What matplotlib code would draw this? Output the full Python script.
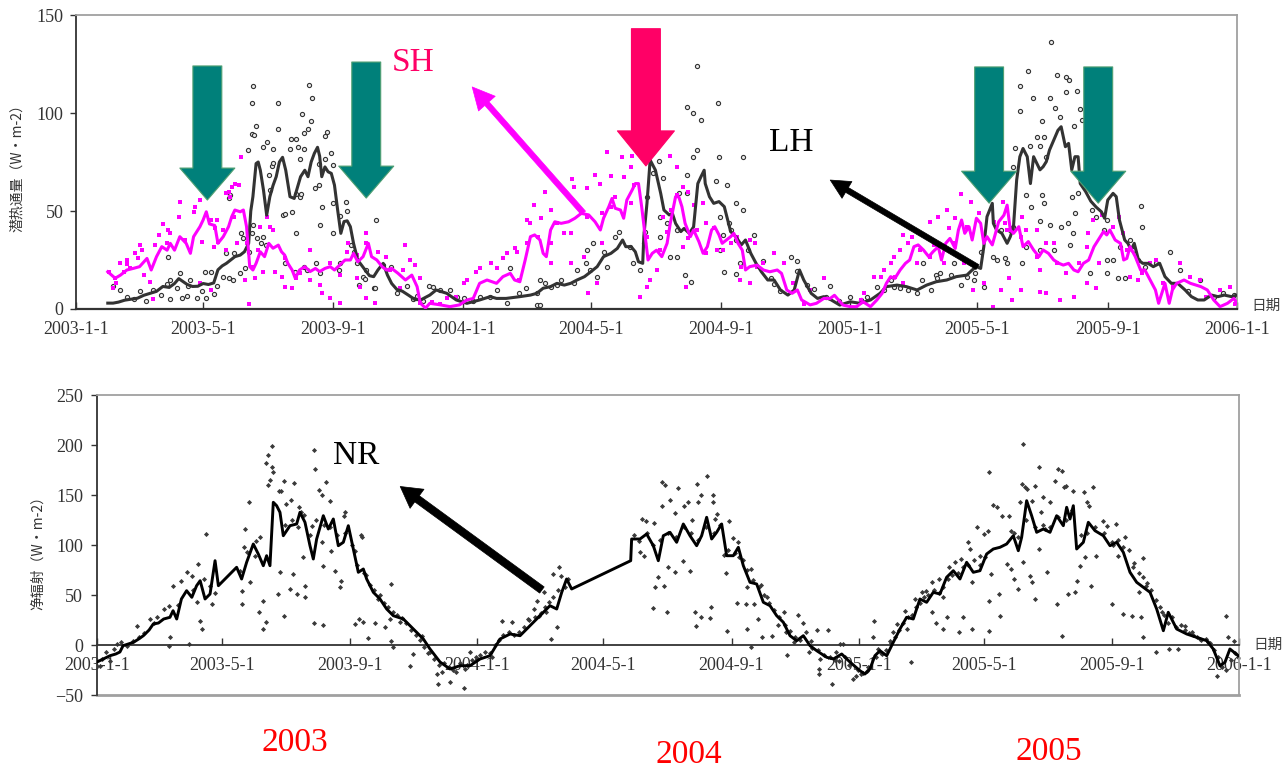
import numpy as np
import matplotlib
matplotlib.use("Agg")
import matplotlib.pyplot as plt

plt.rcParams['font.family'] = ['Liberation Serif', 'Noto Sans CJK SC', 'DejaVu Sans']

# day numbers count from 2003-01-01
start = np.datetime64('2003-01-01')
tick_dates = ['2003-01-01', '2003-05-01', '2003-09-01', '2004-01-01', '2004-05-01',
              '2004-09-01', '2005-01-01', '2005-05-01', '2005-09-01', '2006-01-01']
tick_labels = ['2003-1-1', '2003-5-1', '2003-9-1', '2004-1-1', '2004-5-1',
               '2004-9-1', '2005-1-1', '2005-5-1', '2005-9-1', '2006-1-1']
year_labels = ['2003', '2004', '2005']

# latent heat (LH) running mean, W/m2
lh_line = [(30, 3), (35, 3), (40, 3.5), (46, 4.5), (52, 5), (58, 5.5), (64, 7), (70, 8), (76, 9),
           (82, 11.5), (88, 11), (93, 13), (97, 15.5), (101, 14), (105, 12.5), (110, 11.5),
           (115, 11.6), (120, 13), (125, 12.5), (130, 13.3), (134, 20), (138, 22), (142, 23.3),
           (146, 25), (150, 26.7), (155, 27.5), (159, 29.2), (163, 33.5), (165, 50), (167, 57.3),
           (170, 74.2), (172, 75), (174, 70.8), (177, 60.6), (180, 47.9), (183, 57.3), (186, 63),
           (189, 67.5), (192, 75), (195, 77.4), (198, 70.8), (202, 57.3), (206, 56.4), (209, 62),
           (212, 67.5), (216, 70.8), (219, 67.5), (222, 75), (225, 79.4), (228, 82.5), (230, 78),
           (232, 67.5), (235, 72.5), (238, 70), (241, 69.2), (244, 63.2), (247, 50.5), (250, 38.6),
           (253, 44.6), (256, 45), (259, 42), (262, 33.5), (266, 24.9), (270, 22), (273, 19.9),
           (277, 17), (281, 16.5), (285, 19.9), (290, 23.3), (294, 17.3), (298, 13), (303, 9.9),
           (308, 9.1), (314, 7), (320, 4.8), (326, 4.8), (334, 7.1), (340, 9.7), (350, 8),
           (359, 4.6), (369, 2.9), (381, 4.6), (391, 6.3), (397, 5.4), (406, 5.4), (419, 6.3),
           (429, 7.1), (435, 8), (441, 10.6), (448, 11.4), (454, 13.1), (461, 12.2), (467, 13.1),
           (473, 14.8), (480, 16.5), (486, 19), (492, 21.6), (498, 26.7), (505, 28.4), (511, 30.9),
           (516, 35.2), (519, 31.8), (524, 31.8), (528, 29.2), (531, 24.1), (535, 23.3), (536, 36.9),
           (539, 53.9), (542, 76), (547, 70.8), (552, 58.9), (555, 50.5), (560, 48), (563, 48.8),
           (566, 43.7), (571, 39.5), (574, 41.1), (579, 38.6), (583, 41.9), (587, 64), (590, 67.5),
           (593, 70.8), (594, 64), (598, 57.3), (602, 53.9), (607, 54.8), (612, 52.2), (618, 39.5),
           (623, 36.9), (628, 32.7), (632, 35.2), (637, 28.4), (642, 23.3), (647, 19), (653, 14.8),
           (659, 14.8), (665, 9.7), (672, 7.1), (678, 9.7), (683, 19.9), (687, 14.8), (694, 8),
           (700, 5.4), (706, 6.3), (713, 4.6), (721, 2), (731, 3.7), (740, 2.9), (750, 4.6),
           (759, 8), (765, 11.4), (775, 12.2), (784, 11.4), (794, 9.7), (803, 12.2), (812, 13.9),
           (822, 14.8), (831, 16.5), (841, 17.3), (846, 19.9), (850, 21.6), (854, 20.7), (857, 31.8),
           (860, 47.1), (865, 53.9), (866, 43.7), (869, 40.3), (874, 38.6), (879, 33.5), (882, 36.9),
           (885, 42), (888, 65.8), (891, 77.7), (894, 81.9), (898, 77.7), (901, 64), (904, 77.7),
           (907, 74.3), (910, 71), (913, 72.6), (916, 75.2), (919, 81.1), (923, 86.2), (927, 91.2),
           (930, 93), (934, 82.8), (937, 84.5), (940, 71), (943, 77.7), (946, 77.7), (948, 64),
           (953, 60), (958, 55), (963, 52), (968, 49.6), (971, 46.3), (974, 55.6), (979, 59),
           (982, 57.3), (985, 45.4), (990, 35.2), (993, 33.5), (996, 30.1), (999, 33.5), (1003, 25),
           (1007, 23.3), (1012, 23.3), (1017, 21.6), (1023, 23.3), (1028, 16.5), (1034, 13.1),
           (1040, 13.1), (1047, 9.7), (1053, 6.3), (1059, 4.6), (1065, 4.6), (1072, 7.1),
           (1078, 6.3), (1084, 7.1), (1091, 6.3), (1096, 7.1)]

# sensible heat (SH) running mean, W/m2
sh_line = [(30, 19), (37, 15.7), (42, 17.3), (48, 19.9), (54, 20.7), (60, 21.6), (67, 25.8),
           (71, 19.9), (76, 26.7), (81, 31.8), (86, 30), (89, 33.5), (93, 30), (98, 36.9),
           (104, 33.5), (108, 28.4), (111, 36.9), (117, 42), (120, 45.4), (123, 49.6), (126, 43.4),
           (131, 42.6), (134, 33.5), (139, 36.9), (144, 42), (147, 47.1), (150, 50.5), (155, 49.6),
           (158, 50.5), (161, 42), (164, 21.6), (167, 19.9), (170, 23.3), (174, 29.2), (178, 26.7),
           (182, 33.5), (186, 31), (191, 32.6), (194, 29.2), (197, 27.5), (200, 23.3), (204, 19.9),
           (207, 15.7), (211, 19.9), (216, 21.6), (221, 19.1), (226, 20.7), (230, 19.1), (235, 20.7),
           (240, 21.6), (244, 19.9), (249, 22.4), (254, 25), (259, 25), (262, 28.4), (266, 24.1),
           (271, 26.7), (276, 33.5), (279, 26.7), (284, 25), (289, 21.6), (293, 19.9), (298, 20.7),
           (304, 18.2), (311, 14.8), (317, 17.3), (322, 11.4), (325, 3), (330, 0.5), (334, 2.9),
           (344, 2.1), (353, 1.2), (362, 2.1), (369, 4.6), (375, 5.4), (381, 13.1), (388, 14.8),
           (397, 13.1), (403, 16.5), (410, 18.2), (414, 14.8), (419, 13.9), (424, 24.9), (429, 36.9),
           (433, 37.8), (438, 35.2), (441, 28.4), (444, 26.7), (448, 40.3), (452, 44.5), (458, 43.7),
           (465, 44.5), (471, 46.3), (477, 48.8), (484, 48), (490, 44.5), (495, 40.3), (498, 46.3),
           (503, 52.2), (506, 56.4), (509, 51.4), (514, 50.5), (517, 46.3), (520, 55.6), (525, 60.7),
           (528, 64), (531, 64), (534, 52.2), (537, 38.6), (540, 25), (544, 28.4), (548, 30),
           (553, 26.7), (558, 33.5), (561, 43.7), (566, 57.3), (569, 57.3), (572, 52.2), (575, 43.7),
           (580, 36.9), (583, 40.3), (588, 34.4), (592, 28.4), (596, 31.8), (600, 40.3), (603, 42),
           (607, 37.8), (610, 33.5), (614, 35.2), (618, 36.9), (621, 38.6), (625, 33.5), (629, 30),
           (632, 19.9), (636, 21.6), (643, 22.4), (649, 19.9), (655, 19), (662, 19.9), (666, 18.2),
           (671, 9.7), (676, 8), (681, 9.7), (685, 4.6), (693, 2.1), (699, 2.9), (706, 5.4),
           (712, 5.4), (716, 7), (724, 2), (731, 1.2), (737, 1.2), (743, 3.7), (750, 1.2), (756, 4.6),
           (761, 8), (765, 13.1), (769, 16.5), (773, 15.6), (778, 19.9), (783, 23.3), (787, 25),
           (791, 31.8), (795, 32.7), (800, 30.1), (805, 26.7), (809, 29.2), (814, 31.8), (817, 25),
           (821, 33.5), (825, 36), (830, 30.9), (833, 40.3), (836, 45.4), (839, 38.6), (843, 42),
           (846, 35.2), (850, 46.3), (854, 43.7), (857, 33.5), (860, 36.9), (865, 32.7), (868, 38.6),
           (871, 44.5), (876, 47.9), (879, 53), (882, 40.3), (885, 38.6), (890, 42), (894, 31.8),
           (899, 34.4), (904, 30.1), (909, 26.7), (913, 30.1), (918, 28.4), (923, 25), (928, 23.3),
           (932, 22.4), (937, 23.3), (942, 19.9), (946, 19), (951, 23.3), (956, 25), (961, 31.8),
           (965, 35.2), (970, 39.5), (973, 37.8), (976, 40.3), (981, 35.2), (986, 33.5), (989, 25),
           (992, 25.8), (995, 31.8), (1000, 26.7), (1005, 19.9), (1009, 19.9), (1014, 14.8),
           (1019, 9.7), (1022, 2.9), (1025, 8), (1028, 13.1), (1032, 2.9), (1035, 9.7), (1039, 13.1),
           (1046, 14.8), (1052, 13.1), (1062, 11.4), (1068, 9.7), (1074, 4.6), (1080, 1.2),
           (1087, 2.9), (1093, 5.4), (1096, 2.9)]

# LH daily values
lh_dots = [(35, 11.6), (42, 9.9), (48, 6), (55, 5), (60, 9.1), (66, 4), (73, 9.9), (80, 7), (86, 12.5),
           (89, 15), (87, 26.7), (89, 4.9), (95, 10.8), (98, 18.2), (100, 5.7), (105, 6.6), (106, 11.6),
           (108, 15), (114, 5.7), (119, 9.1), (122, 19.1), (123, 5.7), (127, 19.1), (130, 7.4),
           (133, 11.6), (139, 16.5), (142, 28.4), (144, 15.7), (145, 58), (144, 56.4), (148, 14.8),
           (149, 28.4), (155, 18.2), (156, 38.6), (158, 36), (160, 20.7), (162, 81), (163, 29.2),
           (166, 105), (166, 89.3), (166, 38.6), (167, 114), (168, 89), (167, 42.8), (170, 93.5),
           (171, 36), (175, 33.5), (177, 82.5), (177, 36.9), (179, 32.6), (180, 85), (182, 68.3),
           (183, 60.6), (185, 72.8), (186, 74.6), (186, 81.8), (191, 105), (191, 92), (195, 47.9),
           (197, 48.7), (197, 23.3), (202, 81.6), (203, 86.7), (204, 49.6), (207, 19.1), (208, 86.7),
           (208, 58.9), (208, 38.6), (210, 82.5), (211, 76.5), (211, 57.3), (212, 58.9), (213, 99.5),
           (215, 89.6), (215, 81.5), (215, 21.6), (218, 19.9), (219, 91.7), (220, 114.5), (222, 96),
           (223, 107.5), (226, 61.5), (227, 23.3), (229, 63.2), (229, 74.2), (230, 42.8), (230, 18.2),
           (232, 52.2), (235, 88.4), (235, 76.5), (237, 90.5), (241, 79.4), (243, 73.5), (243, 54),
           (243, 38.6), (248, 19.9), (249, 47.2), (249, 23.3), (255, 54.8), (256, 49.8), (260, 32.6),
           (262, 29.2), (265, 23.3), (267, 12.3), (271, 16.5), (273, 15.2), (274, 19.9), (281, 10.6),
           (282, 10.6), (283, 45.6), (290, 22.4), (297, 21.3), (303, 8.2), (312, 11.6), (318, 5),
           (322, 6.5), (328, 4), (333, 11.6), (337, 11.4), (344, 9.7), (353, 9.7), (360, 6),
           (366, 5.4), (375, 4), (381, 6.3), (391, 6.3), (397, 9.7), (407, 3), (410, 20.7), (418, 8),
           (425, 10.6), (435, 8), (435, 2.1), (438, 14.8), (438, 2.1), (443, 13.1), (448, 11),
           (454, 12.2), (458, 14.8), (470, 13.1), (473, 19.9), (481, 23.3), (482, 30), (485, 19.9),
           (488, 33.5), (492, 16.5), (498, 29.2), (501, 21.6), (509, 36.9), (513, 39.5), (523, 31.8),
           (526, 23.3), (532, 19.9), (536, 33.5), (537, 39.5), (539, 57.3), (545, 69.2), (550, 75.5),
           (551, 47.1), (551, 36.9), (554, 66.6), (558, 43.7), (561, 26.6), (567, 40.3), (567, 26.6),
           (569, 59), (575, 17.6), (577, 59), (577, 68.3), (577, 103.2), (581, 13.9), (582, 100.2),
           (582, 77.3), (586, 124), (586, 81), (590, 96.4), (604, 65.5), (606, 104.9), (607, 77.3),
           (608, 47.1), (608, 30), (611, 37.8), (612, 18.7), (615, 63.2), (616, 43.7), (618, 40.3),
           (623, 53.9), (623, 35.2), (623, 17.7), (627, 23.7), (630, 77.3), (630, 50.5), (634, 30),
           (640, 37.8), (649, 24.5), (656, 16), (659, 12.7), (665, 9.3), (675, 26.4), (681, 24.5),
           (681, 19.5), (690, 12), (697, 10.1), (708, 5.9), (712, 11.8), (720, 4), (731, 6.3),
           (741, 4.6), (747, 6.3), (756, 11.4), (763, 9.7), (769, 14.8), (772, 11.4), (778, 10.6),
           (785, 9.7), (794, 8), (799, 14.8), (800, 23.3), (807, 9.7), (812, 17.3), (813, 15.6),
           (816, 18.2), (826, 17.3), (829, 23.3), (835, 12.2), (841, 16.5), (848, 14.8), (849, 18.2),
           (854, 29.2), (857, 11.4), (866, 26.6), (869, 24.9), (873, 40.3), (877, 26), (879, 23.3),
           (882, 40.3), (885, 42), (885, 72.6), (886, 82.3), (891, 113.8), (891, 101), (893, 23.3),
           (897, 58.1), (897, 31.8), (899, 121.6), (901, 83.2), (902, 52.2), (903, 107.5), (907, 87.6),
           (910, 83.2), (910, 45), (910, 30), (912, 58.1), (912, 96), (914, 87.6), (914, 53.9),
           (916, 77.7), (919, 107.5), (919, 42.8), (920, 136.4), (923, 30), (924, 102.4), (926, 119.4),
           (929, 97.8), (930, 42), (935, 110.6), (935, 118.5), (936, 43.7), (937, 116.8), (938, 32.7),
           (940, 57.3), (941, 38.6), (942, 93.3), (943, 48.8), (945, 111.2), (946, 59), (948, 101.9),
           (950, 96.4), (957, 18.2), (959, 50.5), (963, 47.1), (970, 40.3), (973, 45.4), (973, 25),
           (973, 18.2), (979, 25), (984, 15.6), (986, 31.8), (990, 15.6), (995, 35.2), (998, 30.1),
           (1003, 25), (1005, 52.6), (1006, 41.6), (1009, 21.6), (1020, 23.3), (1033, 28.9),
           (1042, 19.9), (1050, 9), (1061, 14.8), (1074, 6.3), (1083, 8), (1093, 7.1)]

# SH daily values
sh_dots = [(31, 19), (35, 10.6), (37, 15.7), (38, 13.1), (42, 23.6), (45, 19.1), (48, 23), (48, 25),
           (51, 20.7), (56, 28.4), (59, 26), (60, 32.6), (62, 30), (64, 17.3), (70, 13.9), (73, 4.9),
           (75, 32.6), (78, 37.8), (82, 43.4), (86, 33.5), (87, 40.3), (89, 38.6), (97, 47.1),
           (98, 54.4), (103, 35.2), (108, 30), (111, 49.7), (112, 52.2), (117, 55.6), (117, 13.1),
           (119, 34.3), (127, 45.4), (127, 9.7), (130, 31.8), (131, 41.1), (133, 45.4), (134, 34.3),
           (139, 40.3), (142, 30), (142, 59), (144, 59.8), (145, 57.3), (147, 62.4), (149, 47.1),
           (150, 64), (152, 33.5), (154, 63.2), (156, 77.7), (160, 14.8), (161, 33.5), (163, 2.8),
           (167, 21.6), (169, 15.7), (172, 30), (174, 42), (177, 19.1), (180, 47.1), (183, 42),
           (186, 40.3), (188, 19.1), (194, 16.5), (197, 25.8), (197, 11.4), (204, 10.6), (208, 15.7),
           (211, 18.2), (221, 30), (221, 14.8), (230, 12.3), (232, 8.2), (240, 5.6), (240, 23.3),
           (249, 3), (249, 17.3), (256, 29.2), (257, 33.5), (265, 27.5), (265, 15.7), (268, 11.4),
           (274, 38.6), (274, 33.5), (274, 5.6), (282, 3), (285, 29.2), (293, 26.6), (296, 19.9),
           (306, 10.6), (309, 19.9), (311, 32.6), (315, 24.9), (320, 22.4), (325, 15.7), (325, 3),
           (336, 3.7), (344, 2.8), (350, 5.4), (359, 6.3), (366, 13.1), (369, 14.8), (378, 19.1),
           (381, 20.7), (392, 23.3), (397, 20.7), (403, 25.8), (407, 28.4), (414, 30.9), (416, 29.2),
           (418, 14.8), (426, 33.5), (426, 45.4), (429, 43.7), (432, 53), (436, 36.9), (439, 46.3),
           (443, 59.8), (448, 50.5), (448, 33.5), (448, 23.3), (454, 43.7), (461, 38.6), (467, 38.6),
           (467, 23.3), (468, 66.2), (470, 62.4), (477, 49.6), (480, 26.7), (482, 61.5), (482, 47.1),
           (483, 8), (490, 68.3), (492, 13.1), (495, 64), (497, 48.8), (497, 33.5), (501, 80.2),
           (505, 67.8), (505, 52.2), (509, 57.3), (515, 77.7), (517, 67.5), (524, 72.6), (524, 53.9),
           (525, 78), (527, 63.2), (532, 6.3), (539, 11.4), (539, 36.9), (542, 14.8), (548, 19.9),
           (551, 30), (554, 47.1), (558, 39.5), (561, 78), (562, 50.5), (567, 72.6), (567, 58.1),
           (573, 62.4), (573, 31.8), (576, 11.4), (578, 59.8), (578, 36), (583, 53), (586, 40.3),
           (592, 53.9), (595, 43.7), (595, 28.4), (602, 41.1), (605, 30), (611, 30), (618, 33.5),
           (624, 36.9), (627, 14.8), (628, 21.6), (636, 35.2), (636, 13.1), (641, 33.5), (643, 21.6),
           (649, 23.3), (659, 28.4), (668, 23.3), (677, 13.1), (687, 2.8), (693, 9.7), (706, 15.7),
           (741, 4.6), (744, 8), (753, 16.5), (760, 16.5), (763, 20), (769, 23.3), (772, 26.7),
           (773, 16.5), (778, 30.1), (781, 37.8), (781, 13.1), (785, 33.5), (789, 36.9), (794, 23.3),
           (797, 30.1), (802, 36.9), (806, 44.2), (806, 26.7), (810, 32.7), (814, 47.1), (819, 23.3),
           (822, 50.5), (824, 41.1), (830, 46.6), (830, 33.5), (835, 58.5), (838, 23.3), (841, 42),
           (845, 54.4), (847, 9.7), (852, 49.1), (857, 13.1), (866, 1), (867, 44.5), (873, 9.7),
           (875, 54.4), (877, 44), (879, 40.3), (881, 15.6), (884, 4.6), (892, 36.9), (892, 9.7),
           (893, 47.1), (897, 40.3), (907, 40.3), (907, 26.7), (910, 19.9), (910, 8.8), (916, 33.5),
           (916, 8), (923, 33.5), (926, 23.3), (929, 4.6), (935, 18.2), (942, 6.3), (947, 23.3),
           (954, 31.8), (954, 13.1), (955, 38.6), (960, 45.4), (963, 10.6), (966, 23.3), (969, 48),
           (979, 42), (985, 47.1), (988, 38.6), (992, 30.1), (995, 16.5), (1003, 14.8), (1006, 18.2),
           (1014, 23.3), (1020, 25), (1026, 13.1), (1036, 11.4), (1042, 23.3), (1052, 16.5),
           (1061, 14.8), (1067, 6.3), (1080, 9.7), (1089, 11.4), (1094, 2.8)]

# net radiation (NR) running mean, W/m2
nr_line = [(0, -17), (6, -14), (12.5, -10.7), (18, -9), (22, -7), (25, -0.7), (30, 1), (35, 2.7),
           (40, 6), (44.5, 9.3), (50, 15), (54, 21), (59, 22), (64, 26), (70, 27.7), (73, 34.3),
           (76.5, 26), (81, 46), (86, 54.3), (91, 47.7), (95.6, 59.3), (99, 64.3), (103.7, 46),
           (108.5, 51), (113.3, 84.3), (116.5, 59.3), (134, 77.7), (138.8, 66), (143.6, 82.7),
           (150, 101), (154.8, 91), (159.6, 79.3), (162.8, 89.3), (166, 79.3), (169.2, 142.7),
           (172.4, 139.3), (175.6, 132.7), (178.8, 109.3), (185.2, 119.3), (191.6, 121),
           (194.8, 132.7), (199.6, 122.7), (204.4, 99.3), (207.6, 86), (210.8, 106), (217.2, 129.3),
           (222, 116), (226.8, 126), (231.6, 99.3), (236.4, 102.7), (241.2, 119.3), (246, 96),
           (250.8, 72.7), (255.6, 76), (258.8, 66), (265.2, 52.7), (271.6, 46), (278, 36),
           (284.4, 29.3), (294, 26), (303.6, 16), (313.2, 6), (319.6, -4), (329.2, -17),
           (338.8, -24), (348.4, -20.7), (358, -20.7), (367.6, -14), (377.2, -10.7), (386.8, 6),
           (396.4, 11), (406, 9.3), (415.5, 19.3), (425.1, 29.3), (434.7, 39.3), (441.2, 36),
           (446, 52.7), (450.7, 66), (455.5, 56), (512.2, 84.3), (513.1, 106), (521.1, 106),
           (527.5, 111), (533.9, 99.3), (538.7, 84.3), (543.5, 109.3), (549.9, 112.7),
           (556.3, 102.7), (562.7, 121), (569.1, 109.3), (575.5, 99.3), (580.3, 109.3),
           (585.1, 127.7), (589.9, 106), (594.7, 112.7), (599.5, 121), (604.3, 89.3), (610.7, 89.3),
           (615.5, 97.7), (620.3, 79.3), (626.7, 62.7), (633.1, 61), (639.5, 42.7), (645.9, 39.3),
           (652.3, 29.3), (658.7, 22.7), (665.1, 9.3), (671.5, 4.3), (677.9, 9.3), (684.3, -0.7),
           (690.7, -5.7), (700.3, -12.3), (706.7, -14), (714.7, -9), (722.6, -17), (732.2, -25.7),
           (737, -29), (741.8, -24), (746.6, -10.7), (751.4, -5.7), (757.9, -10.7), (764.2, 2.7),
           (770.6, 16), (777, 27.7), (783.4, 26), (789.8, 46), (796.2, 42.7), (802.6, 52.7),
           (809, 51), (815.4, 67.7), (821.8, 74.3), (828.2, 66), (834.6, 82.7), (841, 72.7),
           (847.4, 74.3), (853.8, 91), (860.2, 96), (866.6, 97.7), (873, 101), (879.4, 109.3),
           (884.2, 94.3), (887.4, 107.7), (892.2, 144.3), (897, 129.3), (901.8, 112.7),
           (908.2, 116), (914.6, 112.7), (921, 129.3), (927.4, 119.3), (930.6, 137.7), (933.8, 126),
           (937, 139.3), (940.2, 96), (946.6, 102.7), (951.4, 122.7), (957.8, 114.3), (965.8, 109.3),
           (972.2, 99.3), (978.6, 102.7), (985, 92.7), (991.4, 72.7), (997.8, 62.7), (1004.2, 57.7),
           (1010.6, 52.7), (1017, 36), (1023.4, 14.3), (1028.1, 32.7), (1036.2, 16), (1045.8, 11),
           (1055.4, 7.7), (1065, 4.3), (1071.3, -4), (1077.7, -20.7), (1082.5, -17.3), (1087.3, -4),
           (1095.3, -10.7)]

# NR daily values
nr_dots = [(3, -20.7), (5, -14), (9, -7.3), (12.5, -15.7), (16, -4), (19, 1), (23, 2.7), (29, -0.7),
           (35, 4.3), (38, 19.3), (40, 8), (45, 12), (51, 26), (55, 22), (58, 27.7), (64, 36),
           (69, 39.3), (69, -0.7), (70, 7.7), (73, 59.3), (78, 40), (81, 64.3), (86, 72.7), (88, 1),
           (91, 69.3), (92, 55), (96, 42.7), (97, 81), (99, 24.3), (101, 16), (103, 66), (105, 111),
           (108, 59.3), (110, 41), (113, 52), (137, 74.3), (139, 54.3), (139, 41), (141, 97.7),
           (142, 116), (144, 92.7), (146, 143.3), (147, 62.7), (152, 89.3), (153, 104.3), (155, 32.7),
           (156, 107.7), (159, 44.3), (159, 16), (162, 182), (162, 22.7), (164, 190.3), (164, 160),
           (166, 165), (168, 198.7), (168, 177.7), (169, 173.3), (174, 51), (175, 154.3), (176, 72.7),
           (177, 154.3), (179, 164), (179, 29.3), (180, 120), (181, 141), (185, 56), (186, 145),
           (187, 125), (188, 71), (189, 161.7), (192, 51), (193, 118), (194, 137.7), (196, 132.7),
           (198, 87.7), (199, 130), (200, 59.3), (200, 47.7), (204, 110), (206, 119.3), (208, 195.3),
           (208, 22), (209, 176), (210, 125), (213, 155.3), (216, 150), (216, 102.7), (217, 79.3),
           (217, 20), (218, 120), (220, 162.7), (224, 144.3), (224, 118), (225, 94.3), (228, 74.3),
           (230, 110), (233, 57.7), (234, 64.3), (237, 129.3), (238, 112), (238, 133.3), (245, 100),
           (248, 94.3), (248, 21), (250, 80), (251, 26), (253, 110), (254, 107.7), (255, 22.7),
           (256, 72), (258, 70), (260, 6.7), (262, 60), (266, 55), (267, 22), (270, 46), (272, 50),
           (275, 42), (276, 17.7), (279, 38), (281, 26), (282, 61), (282, 4.3), (284, 33), (284, -1.7),
           (288, 30), (291, 22.7), (293, 27), (297, 22), (300, -20.7), (301, 15), (303, -9),
           (306, 10), (310, 5), (312, 9.3), (314, -2), (318, -8), (320, -7.3), (323, -14), (326, -29),
           (327, -39), (328, -20), (331, -27.3), (333, -18), (338, -22), (339, -37.3), (342, -25),
           (345, -27.3), (348, -18), (352, -43.3), (353, -24), (355, -20), (358, -7.3), (360, -15),
           (364, -12), (365, -14), (368, -10), (372, -7.3), (377, -8), (379, -12.3), (382, 0),
           (386, 5), (389, 24.3), (390, 10), (395, 13), (398, 22.7), (400, 10), (405, 12.7),
           (410, 18), (414, 26), (415, 25), (419, 36), (420, 28), (422, 44.3), (424, 29.3),
           (426, 32), (429, 52.7), (430, 38), (431, 32.7), (434, 43), (436, 6), (438, 71),
           (438, 48), (441, 17.7), (442, 55), (443, 78.3), (445, 69.3), (449, 58), (452, 66),
           (515, 110), (520, 104), (521, 92.7), (523, 126), (525, 89.3), (527, 124.3), (528, 112),
           (534, 37), (534, 100), (535, 122), (536, 57.7), (538, 67.7), (540, 105), (542, 163.3),
           (542, 138.7), (544, 59.3), (545, 160), (547, 33.3), (548, 78.3), (548, 112), (550, 145),
           (555, 131.7), (555, 72.7), (556, 108), (558, 157), (562, 84.3), (563, 139.3), (563, 118),
           (567, 143.3), (569, 74.3), (570, 112), (571, 125.3), (574, 33.3), (575, 19.3), (576, 161),
           (577, 143.3), (577, 105), (580, 150), (580, 28.3), (584, 118), (585, 169.3), (588, 27),
           (589, 38.3), (591, 142.7), (591, 150), (592, 112), (593, 126), (595, 131), (598, 120),
           (602, 90), (604, 72), (605, 13.7), (606, 95), (607, 124.3), (610, 106.7), (612, 92),
           (614, 42), (615, 103.3), (616, 88), (620, 85), (623, 41), (624, 75), (624, 16), (624, 57.7),
           (628, 76), (628, -2.3), (630, 65), (631, 41), (634, 26), (635, 58), (637, 60.3), (638, 7.7),
           (640, 50), (643, 47.7), (645, 42), (648, 9.3), (650, 35), (654, 20), (655, 28), (659, 32.7),
           (660, 20), (661, 12.7), (662, -10), (665, 14), (669, 3.3), (670, 8), (673, 30), (675, 5),
           (678, 22), (680, 12.7), (683, -7.3), (685, 4.3), (686, -3), (691, 15.3), (692, -5),
           (693, -24), (693, -29), (694, -14), (698, -10), (702, 15.3), (703, -12), (705, -39),
           (708, -15), (709, -7.3), (712, -16), (713, 1), (716, 1), (718, -12), (722, -20),
           (726, -34), (728, -30.7), (730, -25), (733, -29), (735, -28), (739, -25.7), (740, -22),
           (742, -22.3), (745, 7.7), (746, 23.7), (748, -12), (750, -4), (752, -8), (753, -9),
           (757, -5), (761, 4.3), (762, 2), (764, 12.7), (766, 8), (768, 21), (770, 15), (774, 22),
           (775, 34.3), (777, 16), (778, 28), (781, -17.3), (782, 30), (785, 46), (786, 38),
           (790, 42), (792, 52.7), (794, 48), (796, 54.3), (798, 50), (801, 32.7), (801, 62.7),
           (803, 55), (805, 22), (808, 66), (808, 52), (812, 47.7), (812, 16), (812, 58),
           (816, 27.7), (817, 66), (818, 77.7), (821, 70), (823, 82.7), (826, 72), (827, 12.7),
           (829, 86), (831, 78), (831, 27.7), (836, 102.7), (836, 80), (838, 96), (840, 62.7),
           (840, 16), (842, 85), (845, 117.7), (847, 89.3), (847, 80), (851, 111), (852, 88),
           (855, 114.3), (856, 173.3), (856, 44.3), (856, 14.3), (858, 71), (860, 140), (864, 137.7),
           (866, 51), (867, 29.3), (869, 129.3), (873, 81), (875, 129.3), (877, 114.3), (877, 76),
           (880, 112), (880, 66), (884, 56), (884, 107.7), (886, 142.7), (888, 161), (889, 201),
           (889, 82.7), (891, 157.7), (892, 125), (893, 156), (895, 69.3), (897, 144.3), (897, 62.7),
           (900, 159.3), (900, 118), (900, 46), (904, 177.7), (904, 96), (906, 132.7), (908, 147.7),
           (908, 120), (910, 116), (912, 72.7), (915, 142.7), (915, 118), (919, 164.3), (921, 41),
           (922, 176), (922, 128), (926, 174.3), (926, 9.3), (928, 157.7), (930, 159.3), (930, 125),
           (932, 51), (936, 135), (937, 154.3), (939, 52.7), (941, 64.3), (943, 79.3), (944, 110),
           (947, 152.7), (948, 87.7), (950, 142.7), (950, 112), (952, 138.7), (954, 59.3),
           (956, 157.7), (958, 118), (959, 89.3), (965, 124.3), (966, 112), (969, 119.3),
           (974, 102.7), (974, 41), (975, 100), (978, 121), (980, 89.3), (980, 105), (985, 31),
           (985, 98), (987, 107.7), (990, 95), (993, 29.3), (994, 77.7), (995, 82), (1000, 72),
           (1000, 52.7), (1002, 27.7), (1004, 86.7), (1004, 7.7), (1004, 68), (1007, 59.3),
           (1008, 62), (1012, 55), (1016, 45), (1016, -7.3), (1020, 38), (1022, 32.7), (1024, 30),
           (1028, 22), (1029, -4), (1032, 28), (1036, 18), (1037, -4), (1040, 20), (1044, 19.3),
           (1044, 15), (1048, 12), (1051, 12.7), (1052, 10), (1056, 8), (1059, 6), (1060, 5),
           (1064, 6), (1066, 2.7), (1068, 2), (1072, -5), (1075, -30.7), (1076, -12), (1079, -20.7),
           (1080, -22), (1084, 29.3), (1084, -25), (1085, 7.7), (1088, -15), (1091, 4.3), (1092, -8),
           (1095, -12)]

tick_days = [int((np.datetime64(d) - start).astype(int)) for d in tick_dates]
end_day = tick_days[-1]

lh_line_d, lh_line_v = np.array(lh_line).T
sh_line_d, sh_line_v = np.array(sh_line).T
lh_dot_d, lh_dot_v = np.array(lh_dots).T
sh_dot_d, sh_dot_v = np.array(sh_dots).T
nr_line_d, nr_line_v = np.array(nr_line).T
nr_dot_d, nr_dot_v = np.array(nr_dots).T

W, H = 1283, 769
fig = plt.figure(figsize=(W / 100, H / 100), dpi=100)

frame_gray = '#a0a0a0'
ink = '#333333'
cjk = ['Noto Sans CJK SC', 'DejaVu Sans']


def style_axes(ax, ypad):
    for side in ('top', 'right'):
        ax.spines[side].set_color(frame_gray)
        ax.spines[side].set_linewidth(1.3)
    ax.spines['left'].set_color(ink)
    ax.spines['left'].set_linewidth(1.3)
    ax.spines['bottom'].set_color(ink)
    ax.spines['bottom'].set_linewidth(1.6)
    ax.set_xticks(tick_days)
    ax.set_xticklabels(tick_labels)
    ax.tick_params(axis='x', direction='in', length=5, width=1, color=ink, pad=9,
                   labelsize=13, labelcolor=ink)
    ax.tick_params(axis='y', direction='out', length=4, width=1, color=ink, pad=ypad,
                   labelsize=13, labelcolor=ink)


def block_arrow(ax, tail, tip, fc, ec, scale, tw, hw, hl, lw=0.8):
    ax.annotate('', xy=tip, xytext=tail, xycoords='data', textcoords='data',
                annotation_clip=False, zorder=6,
                arrowprops=dict(arrowstyle=f'simple,head_length={hl},head_width={hw},tail_width={tw}',
                                mutation_scale=scale, fc=fc, ec=ec, lw=lw,
                                shrinkA=0, shrinkB=0))


# ---- upper panel: latent and sensible heat ----
ax1 = fig.add_axes([76 / W, 1 - 309 / H, 1161 / W, 294 / H])
ax1.set_xlim(0, end_day)
ax1.set_ylim(0, 150)
ax1.set_yticks([0, 50, 100, 150])
style_axes(ax1, 5)

ax1.plot(lh_dot_d, lh_dot_v, ls='none', marker='o', ms=3.0, mfc='#e8e8e8', mec=ink, mew=0.8, zorder=2)
ax1.plot(sh_dot_d, sh_dot_v, ls='none', marker='s', ms=2.4, color='#ff00ff', mew=0, zorder=2)
ax1.plot(lh_line_d, lh_line_v, color=ink, lw=2.2, zorder=3)
ax1.plot(sh_line_d, sh_line_v, color='#ff00ff', lw=2.2, zorder=4)

teal, teal_edge = '#00807a', '#4f9f72'
for day, top, tip in [(124, 124, 55.6), (274, 126, 56.6), (862, 123.5, 54), (965, 123.5, 54)]:
    block_arrow(ax1, (day, top), (day, tip), teal, teal_edge, 20, 1.04, 1.98, 1.15)
block_arrow(ax1, (538, 143), (538, 73), '#ff0066', '#ff0066', 20, 1.04, 2.05, 1.26)
block_arrow(ax1, (479, 49), (374, 113.3), '#ff00ff', '#ff00ff', 10, 0.4, 1.6, 1.6, lw=0.5)
block_arrow(ax1, (851, 21.4), (712, 65.8), 'black', 'black', 10, 0.4, 1.4, 1.4, lw=0.5)

ax1.text(318, 125.5, 'SH', color='#ff0066', fontsize=24, ha='center', va='center')
ax1.text(675, 84.7, 'LH', color='black', fontsize=24, ha='center', va='center')
ax1.text(1.012, 0.01, '日期', transform=ax1.transAxes, family=cjk, fontsize=10.5,
         color='#404040', ha='left', va='center')
fig.text(17 / W, 1 - 165 / H, '潜热通量（W•m-2）', family=cjk, fontsize=10, color=ink,
         rotation=90, ha='center', va='center')

# ---- lower panel: net radiation ----
ax2 = fig.add_axes([97 / W, 1 - 695 / H, 1142 / W, 300 / H])
ax2.set_xlim(0, end_day)
ax2.set_ylim(-50, 250)
ax2.set_yticks(range(-50, 251, 50))
style_axes(ax2, 6)
ax2.spines['bottom'].set_position(('data', 0))
ax2.spines['bottom'].set_linewidth(1.3)
ax2.plot([0, 1], [0, 0], transform=ax2.transAxes, color=frame_gray, lw=2, clip_on=False)

ax2.plot(nr_dot_d, nr_dot_v, ls='none', marker='D', ms=2.6, color='#3a3a3a', mew=0, zorder=2)
ax2.plot(nr_line_d, nr_line_v, color='black', lw=2.1, zorder=3)

block_arrow(ax2, (427, 55), (291, 158.5), 'black', 'black', 10, 0.55, 1.7, 1.5, lw=0.5)
ax2.text(248.5, 189, 'NR', color='black', fontsize=24, ha='center', va='center')
ax2.text(1.013, 0, '日期', transform=ax2.get_yaxis_transform(), family=cjk, fontsize=10.5,
         color='#404040', ha='left', va='center')
fig.text(38 / W, 1 - 550 / H, '净辐射（W•m-2）', family=cjk, fontsize=10, color=ink,
         rotation=90, ha='center', va='center')

# year captions under the lower panel
for label, (xp, yp) in zip(year_labels, [(295, 743), (689, 755), (1049, 752)]):
    fig.text(xp / W, 1 - yp / H, label, color='red', fontsize=24, ha='center', va='center')

fig.savefig('out.png', dpi=100, facecolor='white')
